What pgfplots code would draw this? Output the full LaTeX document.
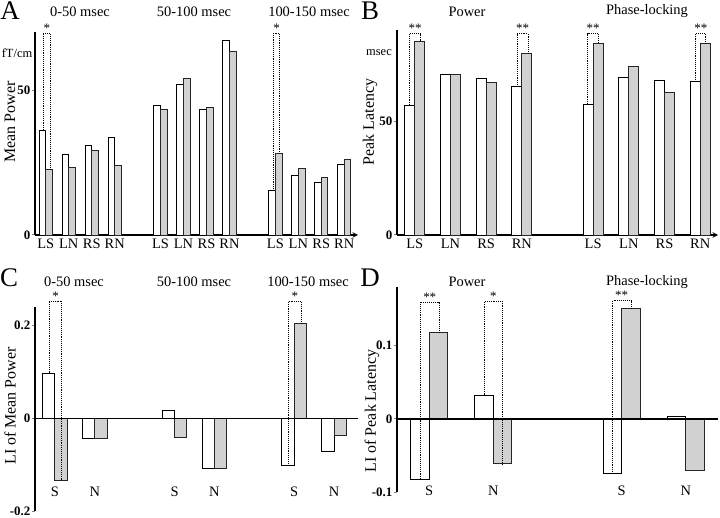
\documentclass[border=0pt]{standalone}
\usepackage{fontspec}
\setmainfont{Liberation Serif}
\usepackage{pgfplots}
\pgfplotsset{compat=1.18}
\newcommand{\brk}[5]{% x1 y1 x2 y2 top
  \draw[densely dotted, line width=0.9pt] (axis cs:#1,#2) |- (axis cs:#3,#5) -- (axis cs:#3,#4);}
\newcommand{\stars}[3]{\node[anchor=south, inner sep=0.5pt, font=\fontsize{13}{13}\selectfont] at (axis cs:#1,#2) {#3};}
\newcommand{\lab}[3]{\node[font=\fontsize{14.5}{14.5}\selectfont] at (axis cs:#1,#2) {#3};}
\begin{document}
\begin{tikzpicture}
\useasboundingbox (0,0) rectangle (720bp,518bp);
\pgfplotsset{
  panel/.style={scale only axis, axis y line=left, axis line style={-, line width=1.4pt},
    ybar, clip=false, ytick align=outside, major tick length=3bp,
    xtick style={draw=none}, ytick style={line width=1pt},
    xticklabel style={font=\fontsize{14.5}{14.5}\selectfont, inner sep=2pt},
    yticklabel style={font=\bfseries\fontsize{13}{13}\selectfont, inner sep=1.5pt}},
  wbar/.style={fill=white, draw=black, line width=0.9pt},
  gbar/.style={fill=black!18, draw=black!85, line width=0.9pt},
}
% ---------------- Panel A
\begin{axis}[panel, at={(35bp,283bp)}, anchor=south west, width=323bp, height=203bp,
  xmin=-0.47, xmax=13.6, ymin=0, ymax=70, axis x line=bottom,
  xtick={0,1,2,3,5,6,7,8,10,11,12,13},
  xticklabels={LS,LN,RS,RN,LS,LN,RS,RN,LS,LN,RS,RN},
  ytick={0,50}, yticklabels={0,50}, bar width=0.29]
\addplot[wbar, bar shift=-0.145] coordinates {(0,36.2) (1,27.7) (2,30.8) (3,33.7) (5,44.6) (6,52.0) (7,43.4) (8,67.2) (10,15.2) (11,20.5) (12,18.0) (13,24.5)};
\addplot[gbar, bar shift=0.145] coordinates {(0,22.6) (1,23.3) (2,29.0) (3,24.1) (5,43.4) (6,53.9) (7,44.0) (8,63.2) (10,28.2) (11,22.9) (12,19.9) (13,26.2)};
\brk{-0.1}{36.2}{0.2}{22.6}{69.5}
\stars{0.05}{69.5}{*}
\brk{9.9}{15.2}{10.19}{28.2}{69.5}
\stars{10.05}{69.5}{*}
\end{axis}
% ---------------- Panel B
\begin{axis}[panel, at={(397bp,283bp)}, anchor=south west, width=321bp, height=205bp,
  xmin=-0.5, xmax=8.5, ymin=0, ymax=90, axis x line=bottom,
  xtick={0,1,2,3,5,6,7,8},
  xticklabels={LS,LN,RS,RN,LS,LN,RS,RN},
  ytick={0,50}, yticklabels={0,50}, bar width=0.28]
\addplot[wbar, bar shift=-0.14] coordinates {(0,57.0) (1,70.6) (2,68.9) (3,65.0) (5,57.5) (6,69.2) (7,68.0) (8,67.2)};
\addplot[gbar, bar shift=0.14] coordinates {(0,85.1) (1,70.6) (2,66.8) (3,79.7) (5,84.1) (6,73.8) (7,62.7) (8,84.2)};
\brk{-0.14}{57.0}{0.16}{85.1}{88.4}
\stars{0.01}{88.4}{**}
\brk{2.87}{65.0}{3.18}{79.7}{88.4}
\stars{3.02}{88.4}{**}
\brk{4.85}{57.5}{5.14}{84.1}{88.4}
\stars{5.0}{88.4}{**}
\brk{7.87}{67.2}{8.16}{84.2}{88.4}
\stars{8.02}{88.4}{**}
\end{axis}
% ---------------- Panel C
\begin{axis}[panel, at={(35bp,7bp)}, anchor=south west, width=323bp, height=204bp,
  xmin=-0.5, xmax=7.6, ymin=-0.2, ymax=0.24, axis x line=none,
  ytick={-0.2,0,0.2}, yticklabels={-0.2,0,0.2}, bar width=0.31]
\addplot[wbar, bar shift=-0.155] coordinates {(0,0.097) (1,-0.044) (3,0.016) (4,-0.109) (6,-0.102) (7,-0.072)};
\addplot[gbar, bar shift=0.155] coordinates {(0,-0.135) (1,-0.044) (3,-0.041) (4,-0.109) (6,0.204) (7,-0.037)};
\draw[line width=1.4pt] (axis cs:-0.5,0) -- (axis cs:7.6,0);
\brk{-0.14}{0.097}{0.17}{-0.135}{0.253}
\stars{0.015}{0.253}{*}
\brk{5.86}{-0.102}{6.17}{0.204}{0.253}
\stars{6.015}{0.253}{*}
\lab{0}{-0.158}{S}
\lab{1}{-0.158}{N}
\lab{3}{-0.158}{S}
\lab{4}{-0.158}{N}
\lab{6}{-0.158}{S}
\lab{7}{-0.158}{N}
\end{axis}
% ---------------- Panel D
\begin{axis}[panel, at={(397bp,25.7bp)}, anchor=south west, width=321bp, height=205.6bp,
  xmin=-0.5, xmax=4.5, ymin=-0.1, ymax=0.18, axis x line=none,
  ytick={-0.1,0,0.1}, yticklabels={-0.1,0,0.1}, bar width=0.29]
\addplot[wbar, bar shift=-0.145] coordinates {(0,-0.082) (1,0.032) (3,-0.075) (4,0.003)};
\addplot[gbar, bar shift=0.145] coordinates {(0,0.118) (1,-0.061) (3,0.150) (4,-0.070)};
\draw[line width=1.4pt] (axis cs:-0.5,0) -- (axis cs:4.5,0);
\brk{-0.135}{-0.082}{0.155}{0.118}{0.159}
\stars{0.01}{0.159}{**}
\brk{0.86}{0.032}{1.145}{-0.061}{0.160}
\stars{1.0}{0.160}{*}
\brk{2.86}{-0.075}{3.145}{0.150}{0.161}
\stars{3.0}{0.161}{**}
\lab{0}{-0.098}{S}
\lab{1}{-0.098}{N}
\lab{3}{-0.098}{S}
\lab{4}{-0.098}{N}
\end{axis}
% ---------------- texts
\begin{scope}[every node/.style={font=\fontsize{14.5}{14.5}\selectfont}]
\node at (80bp,506.5bp) {0-50 msec};
\node at (194bp,506.5bp) {50-100 msec};
\node at (309bp,506.5bp) {100-150 msec};
\node at (467bp,506.5bp) {Power};
\node at (647bp,506.5bp) {Phase-locking};
\node at (74bp,236.3bp) {0-50 msec};
\node at (194bp,236.3bp) {50-100 msec};
\node at (308bp,236.3bp) {100-150 msec};
\node at (467bp,236.3bp) {Power};
\node at (647bp,236.3bp) {Phase-locking};
\end{scope}
\begin{scope}[every node/.style={font=\fontsize{16}{16}\selectfont, rotate=90}]
\node at (10bp,396bp) {Mean Power};
\node at (370bp,396bp) {Peak Latency};
\node at (10bp,112bp) {LI of Mean Power};
\node at (372bp,107bp) {LI of Peak Latency};
\end{scope}
\node[font=\fontsize{12.5}{12.5}\selectfont] at (17bp,465bp) {fT/cm};
\node[font=\fontsize{12.5}{12.5}\selectfont] at (379bp,465bp) {msec};
\begin{scope}[every node/.style={font=\fontsize{27}{27}\selectfont}]
\node at (10bp,507bp) {A};
\node at (370bp,507bp) {B};
\node at (9bp,240bp) {C};
\node at (370bp,240bp) {D};
\end{scope}
\end{tikzpicture}
\end{document}
